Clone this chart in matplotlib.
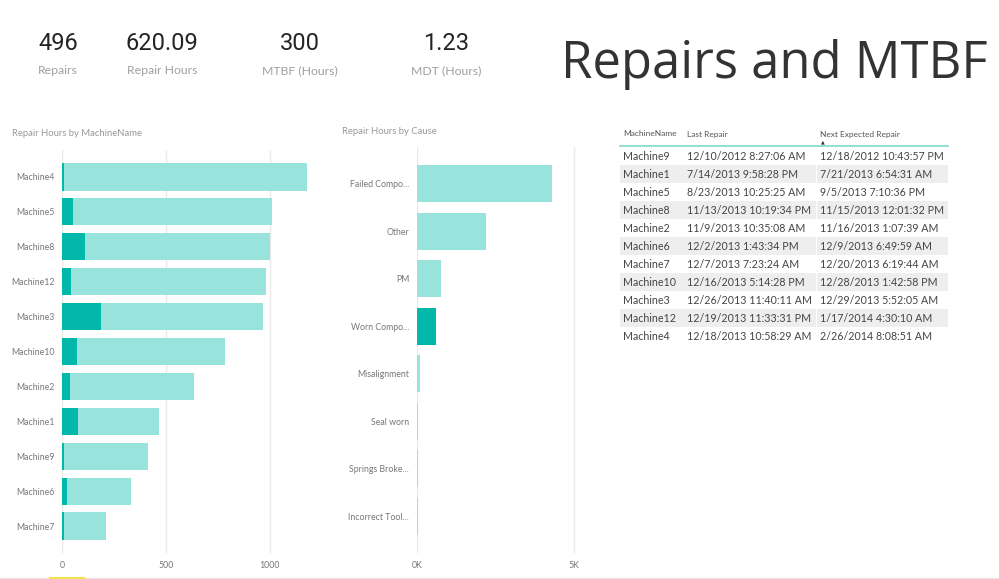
import matplotlib.pyplot as plt
from matplotlib.patches import Rectangle
from matplotlib.lines import Line2D

plt.rcParams['font.family'] = ['Lato', 'DejaVu Sans']

W, H = 999, 579

# KPI cards
kpi_values = ['496', '620.09', '300', '1.23']
kpi_labels = ['Repairs', 'Repair Hours', 'MTBF (Hours)', 'MDT (Hours)']

# Repair hours by machine (total, and highlighted part for "Worn Components")
machines = ['Machine4', 'Machine5', 'Machine8', 'Machine12', 'Machine3', 'Machine10',
            'Machine2', 'Machine1', 'Machine9', 'Machine6', 'Machine7']
machine_total = [1183, 1014, 1003, 982, 971, 785, 638, 468, 415, 333, 214]
machine_highlight = [10, 53, 113, 45, 188, 72, 37, 79, 8, 22, 10]

# Repair hours by cause
causes = ['Failed Compo...', 'Other', 'PM', 'Worn Compo...', 'Misalignment',
          'Seal worn', 'Springs Broke...', 'Incorrect Tool...']
cause_hours = [4319, 2202, 755, 617, 85, 32, 21, 21]
cause_selected = 'Worn Compo...'

# table
tbl_machine = ['Machine9', 'Machine1', 'Machine5', 'Machine8', 'Machine2', 'Machine6',
               'Machine7', 'Machine10', 'Machine3', 'Machine12', 'Machine4']
tbl_last = ['12/10/2012 8:27:06 AM', '7/14/2013 9:58:28 PM', '8/23/2013 10:25:25 AM',
            '11/13/2013 10:19:34 PM', '11/9/2013 10:35:08 AM', '12/2/2013 1:43:34 PM',
            '12/7/2013 7:23:24 AM', '12/16/2013 5:14:28 PM', '12/26/2013 11:40:11 AM',
            '12/19/2013 11:33:31 PM', '12/18/2013 10:58:29 AM']
tbl_next = ['12/18/2012 10:43:57 PM', '7/21/2013 6:54:31 AM', '9/5/2013 7:10:36 PM',
            '11/15/2013 12:01:32 PM', '11/16/2013 1:07:39 AM', '12/9/2013 6:49:59 AM',
            '12/20/2013 6:19:44 AM', '12/28/2013 1:42:58 PM', '12/29/2013 5:52:05 AM',
            '1/17/2014 4:30:10 AM', '2/26/2014 8:08:51 AM']

dark = '#01B8AA'
light = '#99E3DD'
grid_c = '#EAEAEA'
lab_c = '#777777'


def px(x, y):
    return x / W, 1 - y / H


fig = plt.figure(figsize=(W / 100, H / 100), dpi=100)

# KPI cards
kpi_x = [58, 162, 300, 446]
for x, v, l in zip(kpi_x, kpi_values, kpi_labels):
    fig.text(*px(x, 44), v, ha='center', va='center', fontsize=17, color='#252423',
             family=['Roboto', 'DejaVu Sans'])
    fig.text(*px(x, 71), l, ha='center', va='center', fontsize=8.8, color='#A0A0A0')

fig.text(*px(988, 64), 'Repairs and MTBF', ha='right', va='center',
         fontsize=36.5, color='#333333', family=['Open Sans', 'DejaVu Sans'])

# chart 1
ax1 = fig.add_axes([62 / W, 1 - 553 / H, 249 / W, 403 / H])
pos1 = list(range(len(machines)))
ax1.barh(pos1, machine_total, height=0.78, color=light, zorder=2)
ax1.barh(pos1, machine_highlight, height=0.78, color=dark, zorder=3)
ax1.set_xlim(0, 1200)
ax1.set_ylim(len(machines) - 1 + 0.77, -0.77)
ax1.set_yticks(pos1)
ax1.set_yticklabels(machines)
ax1.set_xticks([0, 500, 1000])
ax1.xaxis.grid(True, color=grid_c, lw=1, zorder=0)
fig.text(*px(12, 133), 'Repair Hours by MachineName', ha='left', va='center',
         fontsize=6.8, color='#999999')

# chart 2
ax2 = fig.add_axes([417 / W, 1 - 553 / H, 163 / W, 406 / H])
pos2 = list(range(len(causes)))
cols = [dark if c == cause_selected else light for c in causes]
ax2.barh(pos2, cause_hours, height=0.78, color=cols, zorder=2)
ax2.set_xlim(0, 5200)
ax2.set_ylim(len(causes) - 1 + 0.78, -0.78)
ax2.set_yticks(pos2)
ax2.set_yticklabels(causes)
ax2.set_xticks([0, 5000])
ax2.set_xticklabels(['0K', '5K'])
ax2.xaxis.grid(True, color=grid_c, lw=1, zorder=0)
fig.text(*px(342, 131), 'Repair Hours by Cause', ha='left', va='center',
         fontsize=6.8, color='#999999')

for ax in (ax1, ax2):
    for s in ax.spines.values():
        s.set_visible(False)
    ax.tick_params(length=0, labelsize=6.3, labelcolor=lab_c)
    ax.tick_params(axis='y', pad=5.5)
    ax.tick_params(axis='x', pad=6)
    ax.set_facecolor('none')

# table
col_x = [623, 687, 820]
fig.text(*px(col_x[0], 134), 'MachineName', fontsize=6.0, color='#555555', va='center')
fig.text(*px(col_x[1], 134), 'Last Repair', fontsize=6.0, color='#555555', va='center')
fig.text(*px(col_x[2], 134), 'Next Expected Repair', fontsize=6.0, color='#555555', va='center')
fig.text(*px(823, 142), '\u25B2', fontsize=3.5, color='#333333', ha='center', va='center',
         family='DejaVu Sans')
fig.add_artist(Line2D([620 / W, 948 / W], [1 - 146 / H, 1 - 146 / H], color='#7FD8CF', lw=1.2))
row_h = 18
for i, (m, a, b) in enumerate(zip(tbl_machine, tbl_last, tbl_next)):
    yc = 156 + i * row_h
    if i % 2 == 1:
        fig.add_artist(Rectangle(px(620, yc + 9), 196 / W, row_h / H, color='#EEEEEE', lw=0))
        fig.add_artist(Rectangle(px(817, yc + 9), 131 / W, row_h / H, color='#EEEEEE', lw=0))
    for x, t in zip(col_x, (m, a, b)):
        fig.text(*px(x, yc), t, fontsize=7.7, color='#444444', va='center')

# page footer
fig.add_artist(Line2D([0, 1], [1 - 578 / H] * 2, color='#E8E8E8', lw=1))
fig.add_artist(Line2D([50 / W, 84 / W], [1 - 578 / H] * 2, color='#F2E24C', lw=1.5))

fig.savefig('out.png', dpi=100)
